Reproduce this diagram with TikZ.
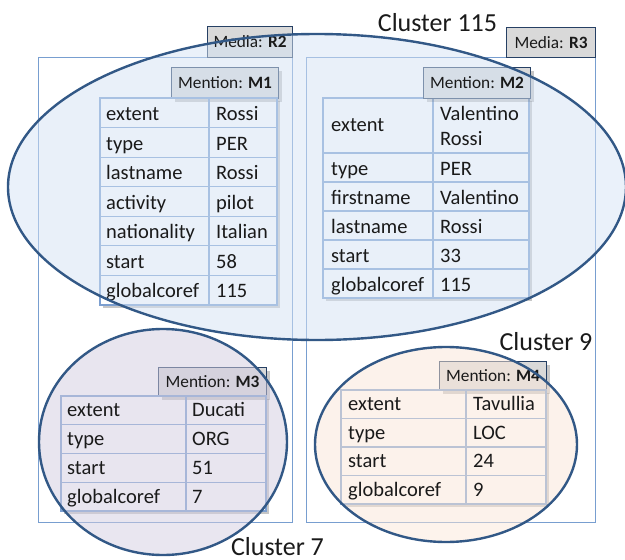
\documentclass[tikz,border=0pt]{standalone}
\usepackage{fontspec}
\setmainfont{Carlito}
\usetikzlibrary{shadows}
\definecolor{cellline}{RGB}{124,159,208}
\definecolor{mediline}{RGB}{120,158,208}
\definecolor{tagfill}{RGB}{217,217,217}
\definecolor{tagline}{RGB}{38,64,100}
\definecolor{ringline}{RGB}{50,88,134}
\definecolor{fillA}{RGB}{213,227,245}
\definecolor{fillB}{RGB}{211,205,225}
\definecolor{fillC}{RGB}{251,231,217}
\definecolor{ink}{RGB}{26,26,26}
\pgfdeclarelayer{boxes}
\pgfdeclarelayer{tint}
\pgfdeclarelayer{rim}
\pgfsetlayers{boxes,tint,main,rim}
\begin{document}
\begin{tikzpicture}[x=1pt,y=-1pt,
  cell/.style={draw=cellline, line width=1.1pt},
  mediabox/.style={draw=mediline, line width=1.1pt, fill=white, inner sep=0pt, anchor=north west},
  tagbox/.style={draw=tagline, line width=1.1pt, fill=tagfill, inner sep=0pt, anchor=north west},
  tagtext/.style={inner sep=0pt, text=ink, font=\fontsize{17.3}{20}\selectfont},
  txt/.style={inner sep=0pt, anchor=base west, text=ink, font=\fontsize{20.5}{24}\selectfont},
  tblshadow/.style={drop shadow={shadow xshift=3pt, shadow yshift=-3pt, opacity=0.22, fill=black}},
  ringfill/.style={fill opacity=0.5},
  ring/.style={draw=ringline, line width=2.4pt},
  clabel/.style={inner sep=0pt, anchor=base, text=ink, font=\fontsize{26}{30}\selectfont}
]
\useasboundingbox (0,0) rectangle (625,560);

% media containers
\begin{pgfonlayer}{boxes}
\node[mediabox, minimum width=254, minimum height=465] (r2) at (38,57) {};
\node[tagbox, minimum width=85, minimum height=31] (r2tag) at (207,26) {};
\node[mediabox, minimum width=289, minimum height=465] (r3) at (306,57) {};
\node[tagbox, minimum width=89, minimum height=30] (r3tag) at (506,27) {};
\end{pgfonlayer}
\node[tagtext] (r2label) at (r2tag.center) {Media: \textbf{R2}};
\node[tagtext] (r3label) at (r3tag.center) {Media: \textbf{R3}};

% mention M1
\begin{pgfonlayer}{boxes}
\fill[white, tblshadow] (100,98) rectangle (277,305);
\node[tagbox, tblshadow, minimum width=107, minimum height=31] (m1tag) at (171,67) {};
\end{pgfonlayer}
\node[tagtext] (m1label) at (m1tag.center) {Mention: \textbf{M1}};
\foreach \k/\v [count=\i] in {extent/Rossi, type/PER, lastname/Rossi, activity/pilot,
    nationality/Italian, start/58, globalcoref/115}{
  \pgfmathsetmacro\yt{98+(\i-1)*29.57}
  \pgfmathsetmacro\yb{\yt+29.57}
  \begin{pgfonlayer}{boxes}
  \draw[cell] (100,\yt) rectangle (209,\yb);
  \draw[cell] (209,\yt) rectangle (277,\yb);
  \end{pgfonlayer}
  \node[txt] (m1k\i) at (106,\yb-7) {\k};
  \node[txt] (m1v\i) at (216,\yb-7) {\v};
}

% mention M2
\begin{pgfonlayer}{boxes}
\fill[white, tblshadow] (323,98) rectangle (529,298);
\draw[cell] (323,98) rectangle (433,153);
\draw[cell] (433,98) rectangle (529,153);
\node[tagbox, tblshadow, minimum width=107, minimum height=31] (m2tag) at (423,67) {};
\end{pgfonlayer}
\node[tagtext] (m2label) at (m2tag.center) {Mention: \textbf{M2}};
\node[txt] (m2k1) at (331,131) {extent};
\node[txt] (m2v1a) at (440,120) {Valentino};
\node[txt] (m2v1b) at (440,145) {Rossi};
\foreach \k/\v [count=\i from 2] in {type/PER, firstname/Valentino, lastname/Rossi,
    start/33, globalcoref/115}{
  \pgfmathsetmacro\yt{153+(\i-2)*29}
  \pgfmathsetmacro\yb{\yt+29}
  \begin{pgfonlayer}{boxes}
  \draw[cell] (323,\yt) rectangle (433,\yb);
  \draw[cell] (433,\yt) rectangle (529,\yb);
  \end{pgfonlayer}
  \node[txt] (m2k\i) at (331,\yb-7) {\k};
  \node[txt] (m2v\i) at (440,\yb-7) {\v};
}

% mention M3
\begin{pgfonlayer}{boxes}
\fill[white, tblshadow] (61,396) rectangle (266,511);
\node[tagbox, tblshadow, minimum width=108, minimum height=29] (m3tag) at (158,367) {};
\end{pgfonlayer}
\node[tagtext] (m3label) at (m3tag.center) {Mention: \textbf{M3}};
\foreach \k/\v [count=\i] in {extent/Ducati, type/ORG, start/51, globalcoref/7}{
  \pgfmathsetmacro\yt{396+(\i-1)*28.75}
  \pgfmathsetmacro\yb{\yt+28.75}
  \begin{pgfonlayer}{boxes}
  \draw[cell] (61,\yt) rectangle (186,\yb);
  \draw[cell] (186,\yt) rectangle (266,\yb);
  \end{pgfonlayer}
  \node[txt] (m3k\i) at (67,\yb-8) {\k};
  \node[txt] (m3v\i) at (192,\yb-8) {\v};
}

% mention M4
\begin{pgfonlayer}{boxes}
\fill[white, tblshadow] (341,390) rectangle (546,504);
\node[tagbox, tblshadow, minimum width=107, minimum height=29] (m4tag) at (439,361) {};
\end{pgfonlayer}
\node[tagtext] (m4label) at (m4tag.center) {Mention: \textbf{M4}};
\foreach \k/\v [count=\i] in {extent/Tavullia, type/LOC, start/24, globalcoref/9}{
  \pgfmathsetmacro\yt{390+(\i-1)*28.5}
  \pgfmathsetmacro\yb{\yt+28.5}
  \begin{pgfonlayer}{boxes}
  \draw[cell] (341,\yt) rectangle (466,\yb);
  \draw[cell] (466,\yt) rectangle (546,\yb);
  \end{pgfonlayer}
  \node[txt] (m4k\i) at (348,\yb-8) {\k};
  \node[txt] (m4v\i) at (473,\yb-8) {\v};
}

% coreference clusters: tinted fill under the texts, outline above them
\begin{pgfonlayer}{tint}
\fill[ringfill, fillA] (317,187) ellipse [x radius=309, y radius=153];
\fill[ringfill, fillB] (163,442) ellipse [x radius=124, y radius=113];
\fill[ringfill, fillC] (446,444.5) ellipse [x radius=131, y radius=97.5];
\end{pgfonlayer}
\begin{pgfonlayer}{rim}
\draw[ring] (317,187) ellipse [x radius=309, y radius=153];
\draw[ring] (163,442) ellipse [x radius=124, y radius=113];
\draw[ring] (446,444.5) ellipse [x radius=131, y radius=97.5];
\end{pgfonlayer}

\node[clabel] (c115) at (437.5,31) {Cluster 115};
\node[clabel] (c9) at (546,350) {Cluster 9};
\node[clabel] (c7) at (277.5,555) {Cluster 7};
\end{tikzpicture}
\end{document}
